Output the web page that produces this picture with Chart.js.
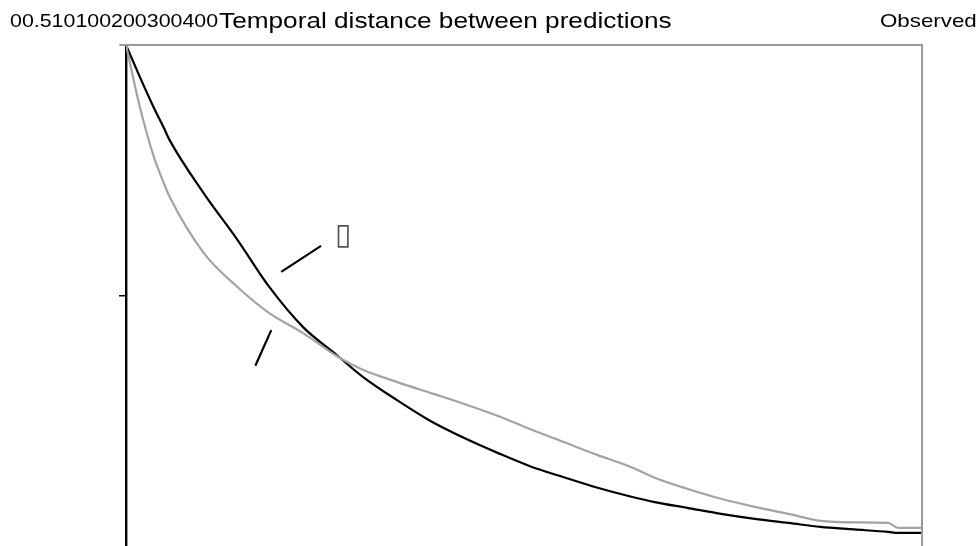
<!DOCTYPE html>
<html>
<head>
<meta charset="utf-8">
<script src="https://cdn.jsdelivr.net/npm/chart.js@4.4.0/dist/chart.umd.min.js"></script>
<style>
  html, body { margin: 0; padding: 0; background: #fff; overflow: hidden; }
  #wrap { width: 980px; height: 600px; }
</style>
</head>
<body>
<div id="wrap"><canvas id="chart"></canvas></div>
<script>
// values
const times = [0, 7, 14, 19, 22, 39, 56, 72, 89, 106, 119, 136, 153, 170, 187, 203, 220, 237, 254, 265, 282, 299, 316, 333, 349, 366, 383, 388, 400];
const observed = [1.0, 0.936, 0.875, 0.835, 0.81, 0.705, 0.612, 0.518, 0.438, 0.382, 0.339, 0.293, 0.251, 0.217, 0.187, 0.161, 0.139, 0.118, 0.100, 0.090, 0.078, 0.066, 0.056, 0.048, 0.040, 0.035, 0.030, 0.028, 0.028];
const predicted = [1.0, 0.876, 0.777, 0.725, 0.697, 0.586, 0.518, 0.466, 0.426, 0.380, 0.353, 0.329, 0.307, 0.285, 0.261, 0.235, 0.209, 0.183, 0.159, 0.139, 0.116, 0.096, 0.080, 0.066, 0.052, 0.049, 0.048, 0.038, 0.038];

const yTickLabels = ['0', '0.5', '1'];
const xTickLabels = ['0', '100', '200', '300', '400'];
const titleText = 'Temporal distance between predictions';
const legendText = 'Observed';

// the two little leader lines and the missing-glyph label
const leaderA = [{ x: 78, y: 0.548 }, { x: 98, y: 0.600 }];
const leaderB = [{ x: 73, y: 0.432 }, { x: 65, y: 0.361 }];
const markerLabel = { x: 109, y: 0.62, text: '\u25AF' };

const toPoints = (xs, ys) => xs.map((x, i) => ({ x: x, y: ys[i] }));

// the original text is drawn a bit wider than Arial, so stretch it
function wideText(ctx, text, x, y, size, stretch) {
  ctx.save();
  ctx.font = size + 'px "Liberation Sans", Arial, sans-serif';
  ctx.translate(x, y);
  ctx.scale(stretch, 1);
  ctx.fillText(text, 0, 0);
  const w = ctx.measureText(text).width * stretch;
  ctx.restore();
  return w;
}

const textPlugin = {
  id: 'texts',
  afterDraw(chart) {
    const ctx = chart.ctx;
    const area = chart.chartArea;
    ctx.save();
    // plot frame
    ctx.strokeStyle = '#9a9a9a';
    ctx.lineWidth = 2;
    ctx.beginPath();
    ctx.moveTo(area.left - 6, area.top);
    ctx.lineTo(area.right, area.top);
    ctx.lineTo(area.right, area.bottom);
    ctx.stroke();
    ctx.beginPath();
    ctx.moveTo(area.left + 1.5, area.top);
    ctx.lineTo(area.left + 1.5, area.bottom);
    ctx.lineWidth = 1;
    ctx.stroke();

    ctx.fillStyle = '#000';
    ctx.textBaseline = 'alphabetic';
    const ticks = yTickLabels.join('') + xTickLabels.join('');
    const w = wideText(ctx, ticks, 10, 27, 18.6, 1.15);
    wideText(ctx, titleText, 10 + w + 1, 27.5, 22, 1.19);
    wideText(ctx, legendText, 880, 27, 18.6, 1.2);

    const xs = chart.scales.x, ys = chart.scales.y;
    ctx.fillStyle = '#555';
    ctx.font = '30px "DejaVu Sans", sans-serif';
    ctx.textAlign = 'center';
    ctx.textBaseline = 'middle';
    ctx.fillText(markerLabel.text, xs.getPixelForValue(markerLabel.x), ys.getPixelForValue(markerLabel.y));
    ctx.restore();
  }
};

new Chart(document.getElementById('chart'), {
  type: 'line',
  data: {
    datasets: [
      {
        label: 'Predicted',
        data: toPoints(times, predicted),
        borderColor: '#a3a3a3',
        borderWidth: 2.2,
        pointRadius: 0,
        cubicInterpolationMode: 'monotone',
        fill: false
      },
      {
        label: 'Observed',
        data: toPoints(times, observed),
        borderColor: '#000',
        borderWidth: 2.2,
        pointRadius: 0,
        cubicInterpolationMode: 'monotone',
        fill: false
      },
      {
        data: leaderA,
        borderColor: '#000',
        borderWidth: 2.2,
        pointRadius: 0
      },
      {
        data: leaderB,
        borderColor: '#000',
        borderWidth: 2.2,
        pointRadius: 0
      }
    ]
  },
  options: {
    responsive: true,
    maintainAspectRatio: false,
    animation: false,
    layout: { padding: { left: 119, top: 45, right: 58, bottom: 53 } },
    plugins: {
      legend: { display: false },
      tooltip: { enabled: false }
    },
    scales: {
      x: {
        type: 'linear',
        min: 0,
        max: 400,
        ticks: { display: false, stepSize: 100 },
        grid: { display: false, drawTicks: false },
        border: { display: false }
      },
      y: {
        min: 0,
        max: 1,
        ticks: { display: false, stepSize: 0.5 },
        grid: {
          drawOnChartArea: false,
          tickLength: 7,
          lineWidth: 1.5,
          color: (c) => (c.tick && c.tick.value === 1 ? '#9a9a9a' : '#000')
        },
        border: { color: '#000', width: 2 }
      }
    }
  },
  plugins: [textPlugin]
});
</script>
</body>
</html>
